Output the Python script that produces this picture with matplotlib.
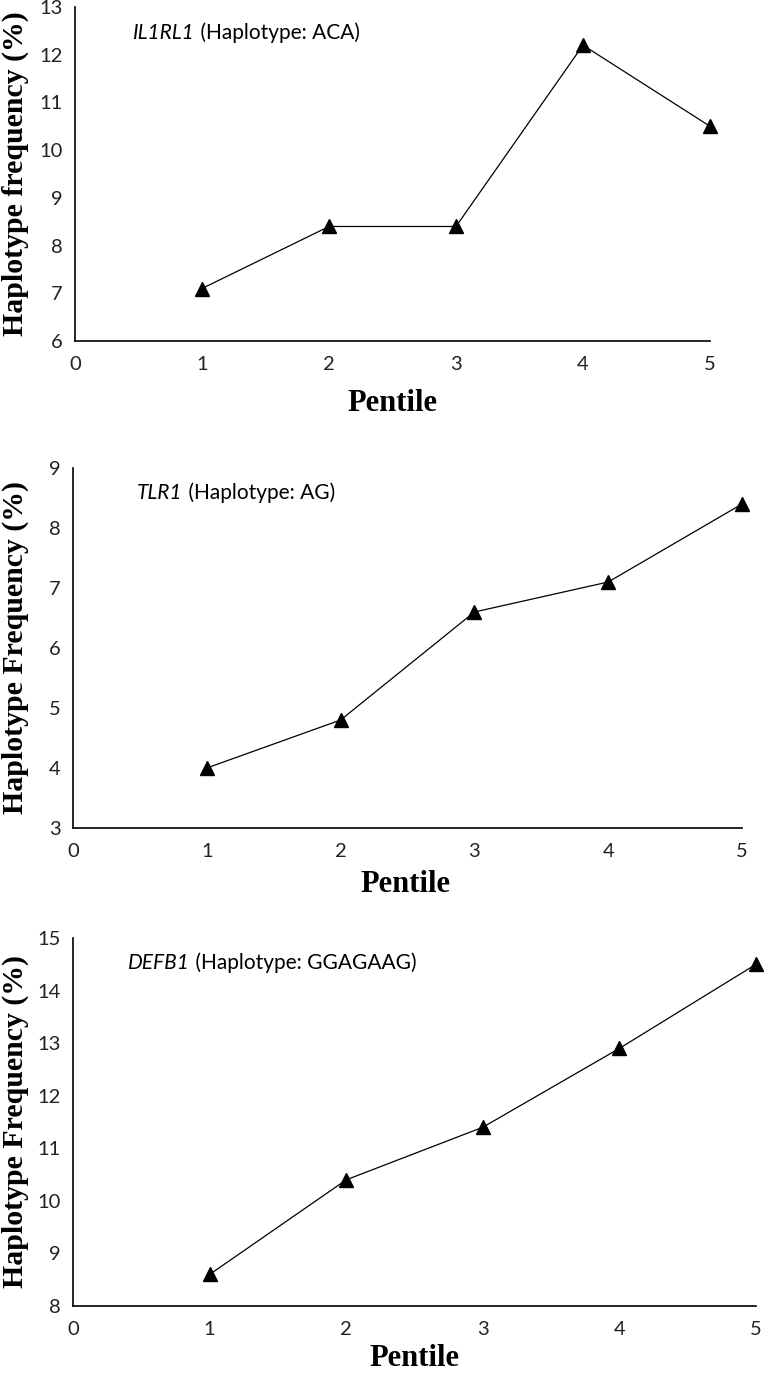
import matplotlib
matplotlib.use("Agg")
import matplotlib.pyplot as plt

# ---- data ----
pentile = [1, 2, 3, 4, 5]
il1rl1_freq = [7.1, 8.4, 8.4, 12.2, 10.5]
tlr1_freq = [4.0, 4.8, 6.6, 7.1, 8.4]
defb1_freq = [8.6, 10.4, 11.4, 12.9, 14.5]

genes = ["IL1RL1", "TLR1", "DEFB1"]
haplotypes = [" (Haplotype: ACA)", " (Haplotype: AG)", " (Haplotype: GGAGAAG)"]
ylabels = ["Haplotype frequency (%)", "Haplotype Frequency (%)", "Haplotype Frequency (%)"]
ylims = [(6, 13), (3, 9), (8, 15)]
xlabel = "Pentile"

W, H = 764, 1374
fig = plt.figure(figsize=(W / 100, H / 100), dpi=100)

# axes boxes in pixels: left, right, top, bottom
boxes = [(75, 710, 7, 341), (73, 742, 468, 828), (73, 756, 938, 1306)]
ann_pos = [(0.091, 0.922), (0.096, 0.93), (0.080, 0.932)]
xlabel_y = [404, 885, 1358]
xlabel_x = [392, 405, 414]

series = [il1rl1_freq, tlr1_freq, defb1_freq]

for i in range(3):
    l, r, t, b = boxes[i]
    ax = fig.add_axes([l / W, 1 - b / H, (r - l) / W, (b - t) / H])
    ax.plot(pentile, series[i], color="black", lw=0.9, marker="^",
            markersize=10, markerfacecolor="black", markeredgecolor="black",
            clip_on=False, zorder=3)
    ax.set_xlim(0, 5)
    ax.set_ylim(*ylims[i])
    ax.set_xticks(range(0, 6))
    ax.set_yticks(range(ylims[i][0], ylims[i][1] + 1))
    for s in ["top", "right"]:
        ax.spines[s].set_visible(False)
    for s in ["left", "bottom"]:
        ax.spines[s].set_linewidth(1.2)
        ax.spines[s].set_color("black")
    ax.tick_params(axis="both", length=0, labelsize=14.5, labelcolor="#222222")
    ax.tick_params(axis="y", pad=9)
    ax.tick_params(axis="x", pad=11)
    for lab in ax.get_xticklabels() + ax.get_yticklabels():
        lab.set_family("Lato")

    ax_, ay_ = ann_pos[i]
    t1 = ax.text(ax_, ay_, genes[i], transform=ax.transAxes, fontsize=15,
                 family="Lato", style="italic", ha="left", va="center")
    ax.annotate(haplotypes[i], xy=(1, 0), xycoords=t1, fontsize=15,
                family="Lato", ha="left", va="bottom")

    fig.text(15 / W, 1 - ((t + b) / 2) / H, ylabels[i], rotation=90,
             ha="center", va="center", family="Liberation Serif",
             fontweight="bold", fontsize=21.5)
    fig.text(xlabel_x[i] / W, 1 - xlabel_y[i] / H, xlabel, ha="center",
             va="center", family="Liberation Serif", fontweight="bold",
             fontsize=22)

fig.savefig("out.png", dpi=100, facecolor="white")
